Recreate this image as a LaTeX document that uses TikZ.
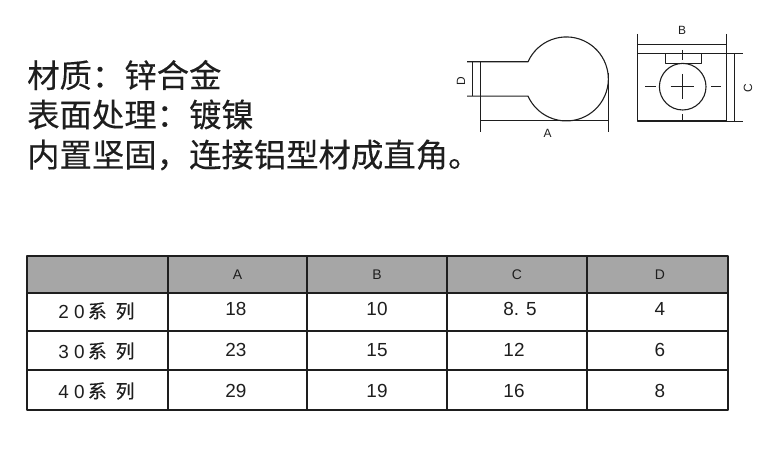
\documentclass[tikz,border=0pt]{standalone}
\usepackage{fontspec}
\setmainfont{Liberation Sans}
\newfontfamily\cjkfont[FakeBold=0.25]{Noto Sans CJK SC}
\definecolor{headgray}{HTML}{A6A6A6}
\definecolor{inkgray}{HTML}{1E1E1E}
\tikzset{
  introtext/.style={anchor=west,inner sep=0pt,text=inkgray,font=\cjkfont\fontsize{32.5}{32.5}\selectfont},
  celltext/.style={inner sep=0pt,text=inkgray,font=\fontsize{19}{19}\selectfont},
  headtext/.style={inner sep=0pt,text=inkgray,font=\fontsize{14}{14}\selectfont},
  rowtext/.style={inner sep=0pt,text=inkgray,font=\fontsize{19}{19}\selectfont},
  dimtext/.style={inner sep=0pt,text=inkgray,font=\fontsize{12}{12}\selectfont},
  gridline/.style={line width=1.1pt,inkgray},
  partline/.style={line width=1.1pt,inkgray},
  dimline/.style={line width=0.8pt,inkgray},
}
\begin{document}
\begin{tikzpicture}[x=1bp,y=1bp,line join=bevel]
\useasboundingbox (0bp,0bp) rectangle (767bp,451bp);
%% intro text
\node (intro_1) at (27bp,376bp) [introtext] {材质：锌合金};
\node (intro_2) at (27bp,336.5bp) [introtext] {表面处理：镀镍};
\node (intro_3) at (27bp,296bp) [introtext] {内置坚固，连接铝型材成直角。};
%% side view
\draw [partline] (467bp,389.2bp) -- (528bp,389.2bp) arc[start angle=155.9,end angle=-155.9,radius=42bp] -- (467bp,354.9bp);
\draw [dimline] (472bp,389.2bp) -- (472bp,354.9bp);
\draw [dimline] (480bp,389.2bp) -- (480bp,319bp);
\draw [dimline] (480bp,330.7bp) -- (609bp,330.7bp);
\draw [dimline] (608.7bp,378bp) -- (608.7bp,319bp);
\node (dim_d) at (461bp,370bp) [dimtext,rotate=90] {D};
\node (dim_a) at (547.5bp,318bp) [dimtext] {A};
%% front view
\draw [partline] (726.3bp,397.3bp) -- (637.7bp,397.3bp) -- (637.7bp,330bp) -- (726.3bp,330bp);
\draw [dimline] (726.3bp,417bp) -- (726.3bp,330bp);
\draw [dimline] (637.7bp,417bp) -- (637.7bp,397.3bp);
\draw [dimline] (637.7bp,407bp) -- (726.3bp,407bp);
\draw [dimline] (726.3bp,397.3bp) -- (743bp,397.3bp);
\draw [dimline] (726.3bp,330bp) -- (743bp,330bp);
\draw [dimline] (734bp,397.3bp) -- (734bp,330bp);
\draw [partline] (682.7bp,364.3bp) circle[radius=23.3bp];
\draw [dimline] (665bp,397.3bp) rectangle (701bp,388bp);
\draw [dimline] (670.7bp,364.3bp) -- (694.3bp,364.3bp);
\draw [dimline] (682.7bp,377bp) -- (682.7bp,352bp);
\draw [dimline] (682.7bp,401bp) -- (682.7bp,391bp);
\draw [dimline] (682.7bp,337bp) -- (682.7bp,329bp);
\draw [dimline] (645bp,364.3bp) -- (656bp,364.3bp);
\draw [dimline] (711bp,364.3bp) -- (721bp,364.3bp);
\node (dim_b) at (682bp,421bp) [dimtext] {B};
\node (dim_c) at (748bp,363bp) [dimtext,rotate=90] {C};
%% table
\fill [headgray] (27bp,195bp) rectangle (728bp,158bp);
\draw [gridline] (27bp,195bp) rectangle (728bp,41bp);
\draw [gridline] (27bp,158bp) -- (728bp,158bp);
\draw [gridline] (27bp,120bp) -- (728bp,120bp);
\draw [gridline] (27bp,81bp) -- (728bp,81bp);
\draw [gridline] (168bp,195bp) -- (168bp,41bp);
\draw [gridline] (307bp,195bp) -- (307bp,41bp);
\draw [gridline] (447bp,195bp) -- (447bp,41bp);
\draw [gridline] (587bp,195bp) -- (587bp,41bp);
%
\node (head_a) at (237.5bp,176bp) [headtext] {A};
\node (head_b) at (377bp,176bp) [headtext] {B};
\node (head_c) at (517bp,176bp) [headtext] {C};
\node (head_d) at (660bp,176bp) [headtext] {D};
\node (row_20) at (96.5bp,140bp) [rowtext] {2 0\,{\cjkfont 系\hspace{9pt}列}};
\node (row_30) at (96.5bp,100bp) [rowtext] {3 0\,{\cjkfont 系\hspace{9pt}列}};
\node (row_40) at (96.5bp,60bp) [rowtext] {4 0\,{\cjkfont 系\hspace{9pt}列}};
\node (val_a20) at (236bp,142bp) [celltext] {18};
\node (val_b20) at (377bp,142bp) [celltext] {10};
\node (val_c20) at (520bp,142bp) [celltext] {8. 5};
\node (val_d20) at (660bp,142bp) [celltext] {4};
\node (val_a30) at (236bp,101bp) [celltext] {23};
\node (val_b30) at (377bp,101bp) [celltext] {15};
\node (val_c30) at (514bp,101bp) [celltext] {12};
\node (val_d30) at (660bp,101bp) [celltext] {6};
\node (val_a40) at (236bp,60bp) [celltext] {29};
\node (val_b40) at (377bp,60bp) [celltext] {19};
\node (val_c40) at (514bp,60bp) [celltext] {16};
\node (val_d40) at (660bp,60bp) [celltext] {8};
%
\end{tikzpicture}
\end{document}
